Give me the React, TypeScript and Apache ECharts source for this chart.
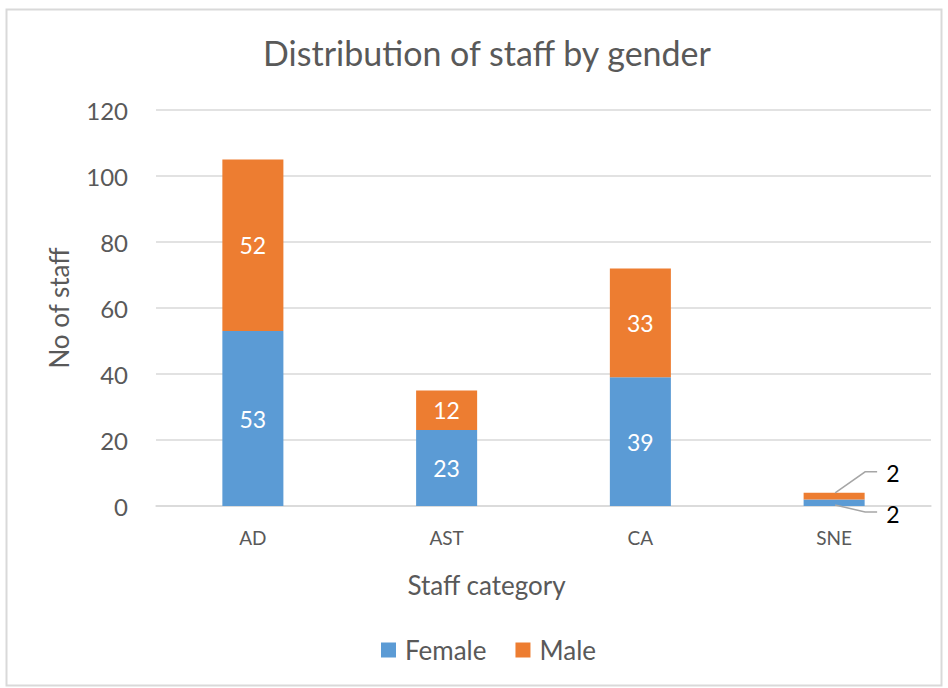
import React, { useEffect, useRef } from "react";
import * as echarts from "echarts";

const categories = ["AD", "AST", "CA", "SNE"];
const female = [53, 23, 39, 2];
const male = [52, 12, 33, 2];
const yTicks = { min: 0, max: 120, interval: 20 };

const FONT = "Lato, 'Noto Sans', sans-serif";
const GREY = "#595959";

export default function App() {
  const ref = useRef<HTMLDivElement>(null);
  useEffect(() => {
    if (!ref.current) return;
    const chart = echarts.init(ref.current, undefined, { renderer: "svg" });
    const outsideIdx = 3;
    const mkData = (arr: number[]) =>
      arr.map((v, i) =>
        i === outsideIdx ? { value: v, label: { color: "#000000" } } : v
      );
    const outsideLayout = (above: boolean) => (p: any) => {
      if (p.dataIndex !== outsideIdx) return {};
      const r = p.rect;
      const cx = r.x + r.width / 2;
      const ly = above ? r.y - 20 : r.y + r.height + 8;
      return { x: cx + 52, y: ly, align: "left", verticalAlign: "middle" };
    };
    const labelBase = {
      show: true,
      position: "inside",
      color: "#ffffff",
      fontFamily: FONT,
      fontSize: 23,
    };
    const guideLine = { stroke: "#A6A6A6", lineWidth: 1.5, fill: "none" };
    const option = {
      animation: false,
      backgroundColor: "#ffffff",
      textStyle: { fontFamily: FONT },
      title: {
        text: "Distribution of staff by gender",
        left: 482,
        textAlign: "center",
        top: 30,
        textStyle: { fontFamily: FONT, fontSize: 34, fontWeight: "normal", color: GREY },
      },
      graphic: [
        {
          type: "rect",
          shape: { x: 6.5, y: 9.5, width: 935, height: 676 },
          style: { fill: "none", stroke: "#D9D9D9", lineWidth: 2 },
          silent: true,
        },
      ],
      legend: {
        bottom: 20,
        left: 376,
        itemWidth: 15,
        itemHeight: 15,
        itemGap: 29,
        icon: "rect",
        textStyle: { fontFamily: FONT, fontSize: 26, color: GREY, padding: [0, 0, 0, 4] },
        data: ["Female", "Male"],
      },
      grid: { left: 156, right: 17, top: 110, bottom: 182, containLabel: false },
      xAxis: {
        type: "category",
        data: categories,
        name: "Staff category",
        nameLocation: "middle",
        nameGap: 66,
        nameTextStyle: { fontFamily: FONT, fontSize: 26, color: GREY, padding: [0, 114, 0, 0] },
        axisLine: { lineStyle: { color: "#D9D9D9", width: 1.5 } },
        axisTick: { show: false },
        axisLabel: { fontFamily: FONT, fontSize: 19, color: GREY, margin: 22 },
      },
      yAxis: {
        type: "value",
        min: yTicks.min,
        max: yTicks.max,
        interval: yTicks.interval,
        name: "No of staff",
        nameLocation: "middle",
        nameGap: 84,
        nameTextStyle: { fontFamily: FONT, fontSize: 26, color: GREY },
        axisLine: { show: false },
        axisTick: { show: false },
        splitLine: { lineStyle: { color: "#D9D9D9", width: 1.5 } },
        axisLabel: { fontFamily: FONT, fontSize: 24, color: GREY, margin: 28 },
      },
      series: [
        {
          name: "Female",
          type: "bar",
          stack: "total",
          barWidth: "31.5%",
          itemStyle: { color: "#5B9BD5" },
          data: mkData(female),
          label: labelBase,
          labelLayout: outsideLayout(false),
        },
        {
          name: "Male",
          type: "bar",
          stack: "total",
          barWidth: "31.5%",
          itemStyle: { color: "#ED7D31" },
          data: mkData(male),
          label: labelBase,
          labelLayout: outsideLayout(true),
        },
        {
          name: "guides",
          type: "custom",
          silent: true,
          z: 5,
          data: [[outsideIdx, female[outsideIdx], male[outsideIdx]]],
          renderItem: (_params: any, api: any) => {
            const c = api.value(0);
            const f = api.value(1);
            const m = api.value(2);
            const top = api.coord([c, f + m]);
            const base = api.coord([c, 0]);
            return {
              type: "group",
              children: [
                {
                  type: "polyline",
                  shape: {
                    points: [
                      [top[0] + 1, top[1]],
                      [top[0] + 31, top[1] - 21],
                      [top[0] + 43, top[1] - 21],
                    ],
                  },
                  style: guideLine,
                },
                {
                  type: "polyline",
                  shape: {
                    points: [
                      [base[0] + 1, base[1] - 1],
                      [base[0] + 31, base[1] + 6],
                      [base[0] + 43, base[1] + 6],
                    ],
                  },
                  style: guideLine,
                },
              ],
            };
          },
        },
      ],
    };
    chart.setOption(option);
    return () => chart.dispose();
  }, []);
  return (
    <div
      ref={ref}
      style={{ position: "fixed", left: 0, top: 0, width: 948, height: 688 }}
    />
  );
}
